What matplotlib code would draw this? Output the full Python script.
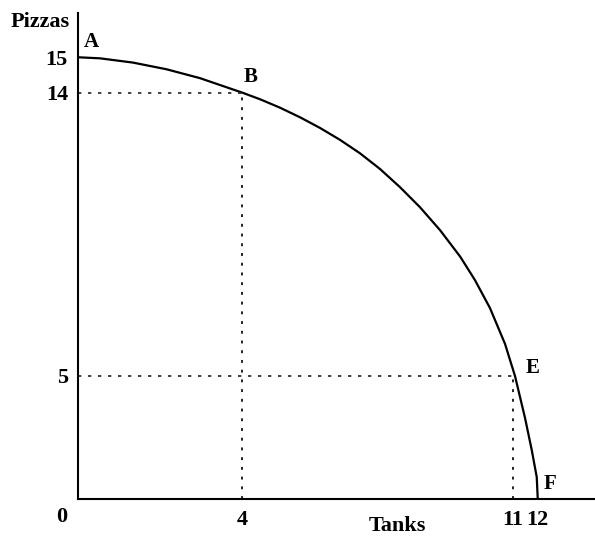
import numpy as np
import matplotlib
matplotlib.use('Agg')
import matplotlib.pyplot as plt

# production possibilities frontier, pizzas vs tanks
tanks = [0, 0.54, 1.34, 2.16, 2.97, 4, 4.46, 4.98, 5.49, 6.01, 6.53, 7.05, 7.56,
         8.08, 8.60, 9.12, 9.64, 10.02, 10.41, 10.80, 11.09, 11.49, 11.76, 11.96, 12]
pizzas = [15, 14.97, 14.85, 14.66, 14.41, 14, 13.79, 13.52, 13.22, 12.88, 12.50, 12.07,
          11.58, 11.00, 10.36, 9.63, 8.79, 8.05, 7.16, 6.02, 5.00, 3.30, 1.99, 0.89, 0]

point_names = ['A', 'B', 'E', 'F']
point_x = [0, 4, 11, 12]
point_y = [15, 14, 5, 0]

xticks = [4, 11, 12]
yticks = [5, 14, 15]

# the original drawing is not to scale, so the axes use a piecewise scale
x_vals = [-10, 0, 4, 11, 12, 30]
x_dist = [-411.5, 0, 164.6, 435, 460, 910]
y_vals = [-10, 0, 5, 14, 15, 30]
y_dist = [-246, 0, 123, 406.3, 441.7, 972.7]

plt.rcParams['font.family'] = ['Liberation Serif', 'DejaVu Serif']
plt.rcParams['font.weight'] = 'bold'

fig = plt.figure(figsize=(5.95, 5.37), dpi=100)
ax = fig.add_axes([77.7 / 595, 38 / 537, 517.3 / 595, 486 / 537])

ax.set_xscale('function', functions=(lambda v: np.interp(v, x_vals, x_dist),
                                     lambda d: np.interp(d, x_dist, x_vals)))
ax.set_yscale('function', functions=(lambda v: np.interp(v, y_vals, y_dist),
                                     lambda d: np.interp(d, y_dist, y_vals)))

ax.plot(tanks, pizzas, color='black', lw=1.6, solid_capstyle='round',
        solid_joinstyle='round')

# dotted guide lines to B and E
for name, px, py in zip(point_names, point_x, point_y):
    if name in ('B', 'E'):
        ax.plot([0, px], [py, py], color='#222222', lw=1.2, ls=(0, (2, 4)))
        ax.plot([px, px], [0, py], color='#222222', lw=1.4, ls=(0, (1.5, 3.5)))

offsets = {'A': (14, 15), 'B': (8, 16), 'E': (20, 8), 'F': (12, 15)}
for name, px, py in zip(point_names, point_x, point_y):
    ax.annotate(name, (px, py), xytext=offsets[name], textcoords='offset pixels',
                ha='center', va='center', fontsize=15, fontweight='bold')

ax.annotate('0', (0, 0), xytext=(-16, -18), textcoords='offset pixels',
            ha='center', va='center', fontsize=16, fontweight='bold')

ax.set_xlim(0, 14.29)
ax.set_ylim(0, 16.25)
ax.set_xticks(xticks)
ax.set_xticklabels([str(t) for t in xticks])
ax.set_yticks(yticks)
ax.set_yticklabels([str(t) for t in yticks])
ax.tick_params(length=0, labelsize=16)
ax.tick_params(axis='x', pad=8)
ax.tick_params(axis='y', pad=7)

ax.spines['top'].set_visible(False)
ax.spines['right'].set_visible(False)
ax.spines['left'].set_linewidth(1.5)
ax.spines['bottom'].set_linewidth(1.5)

fig.text(40 / 595, 1 - 22 / 537, 'Pizzas', ha='center', va='center', fontsize=16, fontweight='bold')
fig.text(397 / 595, 1 - 526 / 537, 'Tanks', ha='center', va='center', fontsize=16, fontweight='bold')

fig.savefig('out.png', dpi=100)
